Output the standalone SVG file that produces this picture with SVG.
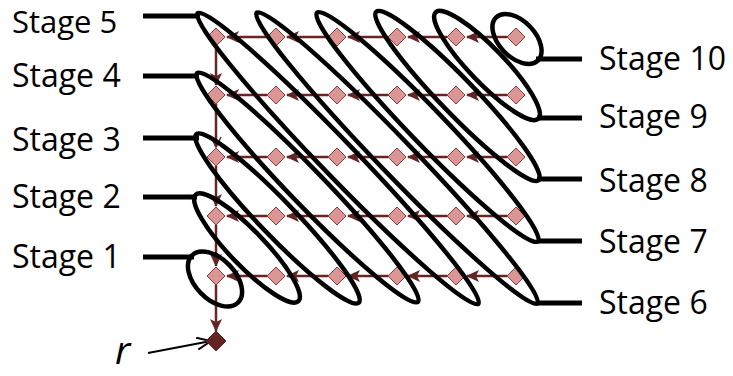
<svg xmlns="http://www.w3.org/2000/svg" width="733" height="376" viewBox="0 0 733 376">
<style>
.ell{fill:none;stroke:#000;stroke-width:4.5}
.lead{fill:none;stroke:#000;stroke-width:5}
.flow{fill:none;stroke:#6B2424;stroke-width:2.5;marker-end:url(#ah)}
.flowo{fill:none;stroke:#6B2424;stroke-width:2.5;marker-end:url(#ao)}
.dia{fill:#D99694;stroke:#953735;stroke-width:1}
.root{fill:#632523;stroke:#632523;stroke-width:1}
.lbl{font-family:"Open Sans","Liberation Sans",sans-serif;font-size:32px;fill:#000}
.r{font-family:"Open Sans","Liberation Sans",sans-serif;font-size:39px;font-style:italic;fill:#000}
</style>
<defs>
<marker id="ah" viewBox="0 0 13 12" refX="12" refY="6" markerWidth="13" markerHeight="12" markerUnits="userSpaceOnUse" orient="auto"><path d="M0,0 L13,6 L0,12 L3,6 z" fill="#632523"/></marker>
<marker id="ao" viewBox="0 0 12 12" refX="11" refY="6" markerWidth="12" markerHeight="12" markerUnits="userSpaceOnUse" orient="auto"><path d="M1,1 L11,6 L1,11" fill="none" stroke="#632523" stroke-width="1.5"/></marker>
<marker id="ar" viewBox="0 0 16 14" refX="15" refY="7" markerWidth="16" markerHeight="14" markerUnits="userSpaceOnUse" orient="auto"><path d="M1,1 L15,7 L1,13" fill="none" stroke="#000" stroke-width="2"/></marker>
<polygon id="dm" points="0,-9 9,0 0,9 -9,0"/>
</defs>

<g id="connectors">
<path class="flow" d="M267,37 H227"/><path class="flow" d="M328,37 H287"/><path class="flow" d="M388,37 H348"/><path class="flow" d="M447,37 H408"/><path class="flow" d="M507,37 H467"/>
<path class="flow" d="M267,95 H227"/><path class="flow" d="M328,95 H287"/><path class="flow" d="M388,95 H348"/><path class="flow" d="M447,95 H408"/><path class="flow" d="M507,95 H467"/>
<path class="flow" d="M267,157 H227"/><path class="flow" d="M328,157 H287"/><path class="flow" d="M388,157 H348"/><path class="flow" d="M447,157 H408"/><path class="flow" d="M507,157 H467"/>
<path class="flow" d="M267,216 H227"/><path class="flow" d="M328,216 H287"/><path class="flow" d="M388,216 H348"/><path class="flow" d="M447,216 H408"/><path class="flow" d="M507,216 H467"/>
<path class="flow" d="M267,276 H227"/><path class="flow" d="M328,276 H287"/><path class="flow" d="M388,276 H348"/><path class="flow" d="M447,276 H408"/><path class="flow" d="M507,276 H467"/>
<path class="flow" d="M216,46 V85"/>
<path class="flowo" d="M216,104 V147"/>
<path class="flow" d="M216,166 V206"/>
<path class="flow" d="M216,225 V266"/>
<path class="flow" d="M216,285 V331"/>
<path fill="none" stroke="#000" stroke-width="2" marker-end="url(#ar)" d="M148,353 L211,341"/>
</g>

<g id="nodes">
<g id="n00"><use href="#dm" class="dia" x="216" y="37"/></g>
<g id="n01"><use href="#dm" class="dia" x="276" y="37"/></g>
<g id="n02"><use href="#dm" class="dia" x="337" y="37"/></g>
<g id="n03"><use href="#dm" class="dia" x="397" y="37"/></g>
<g id="n04"><use href="#dm" class="dia" x="456" y="37"/></g>
<g id="n05"><use href="#dm" class="dia" x="516" y="37"/></g>
<g id="n10"><use href="#dm" class="dia" x="216" y="95"/></g>
<g id="n11"><use href="#dm" class="dia" x="276" y="95"/></g>
<g id="n12"><use href="#dm" class="dia" x="337" y="95"/></g>
<g id="n13"><use href="#dm" class="dia" x="397" y="95"/></g>
<g id="n14"><use href="#dm" class="dia" x="456" y="95"/></g>
<g id="n15"><use href="#dm" class="dia" x="516" y="95"/></g>
<g id="n20"><use href="#dm" class="dia" x="216" y="157"/></g>
<g id="n21"><use href="#dm" class="dia" x="276" y="157"/></g>
<g id="n22"><use href="#dm" class="dia" x="337" y="157"/></g>
<g id="n23"><use href="#dm" class="dia" x="397" y="157"/></g>
<g id="n24"><use href="#dm" class="dia" x="456" y="157"/></g>
<g id="n25"><use href="#dm" class="dia" x="516" y="157"/></g>
<g id="n30"><use href="#dm" class="dia" x="216" y="216"/></g>
<g id="n31"><use href="#dm" class="dia" x="276" y="216"/></g>
<g id="n32"><use href="#dm" class="dia" x="337" y="216"/></g>
<g id="n33"><use href="#dm" class="dia" x="397" y="216"/></g>
<g id="n34"><use href="#dm" class="dia" x="456" y="216"/></g>
<g id="n35"><use href="#dm" class="dia" x="516" y="216"/></g>
<g id="n40"><use href="#dm" class="dia" x="216" y="276"/></g>
<g id="n41"><use href="#dm" class="dia" x="276" y="276"/></g>
<g id="n42"><use href="#dm" class="dia" x="337" y="276"/></g>
<g id="n43"><use href="#dm" class="dia" x="397" y="276"/></g>
<g id="n44"><use href="#dm" class="dia" x="456" y="276"/></g>
<g id="n45"><use href="#dm" class="dia" x="516" y="276"/></g>
<g id="root"><polygon class="root" points="216,331 226,341 216,351 206,341"/><text class="r" x="115" y="364">r</text></g>
</g>

<g id="stage1"><ellipse class="ell" cx="0" cy="0" rx="33" ry="20" transform="translate(215,279) rotate(46)"/><path class="lead" d="M143,257 H194"/><text class="lbl" x="12" y="268">Stage 1</text></g>
<g id="stage2"><ellipse class="ell" cx="0" cy="0" rx="74" ry="17.5" transform="translate(247,248) rotate(46)"/><path class="lead" d="M143,197 H197"/><text class="lbl" x="12" y="208">Stage 2</text></g>
<g id="stage3"><ellipse class="ell" cx="0" cy="0" rx="117" ry="17.5" transform="translate(277.5,218.5) rotate(46)"/><path class="lead" d="M143,138 H199"/><text class="lbl" x="12" y="151">Stage 3</text></g>
<g id="stage4"><ellipse class="ell" cx="0" cy="0" rx="159" ry="17.5" transform="translate(307.5,187.5) rotate(46)"/><path class="lead" d="M143,76 H199"/><text class="lbl" x="12" y="87">Stage 4</text></g>
<g id="stage5"><ellipse class="ell" cx="0" cy="0" rx="202" ry="17.5" transform="translate(338,158.5) rotate(46)"/><path class="lead" d="M143,16 H200"/><text class="lbl" x="12" y="33" style="font-size:31px">Stage 5</text></g>
<g id="stage6"><ellipse class="ell" cx="0" cy="0" rx="202" ry="17.5" transform="translate(397,158) rotate(46)"/><path class="lead" d="M536,303 H582"/><text class="lbl" x="599" y="314">Stage 6</text></g>
<g id="stage7"><ellipse class="ell" cx="0" cy="0" rx="159" ry="17.5" transform="translate(427.5,127) rotate(46)"/><path class="lead" d="M537,241 H582"/><text class="lbl" x="599" y="253">Stage 7</text></g>
<g id="stage8"><ellipse class="ell" cx="0" cy="0" rx="117" ry="17.5" transform="translate(457.5,96) rotate(46)"/><path class="lead" d="M537,179 H582"/><text class="lbl" x="599" y="192">Stage 8</text></g>
<g id="stage9"><ellipse class="ell" cx="0" cy="0" rx="74" ry="17.5" transform="translate(487,65.5) rotate(46)"/><path class="lead" d="M537,118 H582"/><text class="lbl" x="599" y="128">Stage 9</text></g>
<g id="stage10"><ellipse class="ell" cx="0" cy="0" rx="30" ry="18" transform="translate(517,39) rotate(46)"/><path class="lead" d="M536,59 H582"/><text class="lbl" x="599" y="70">Stage 10</text></g>
</svg>
